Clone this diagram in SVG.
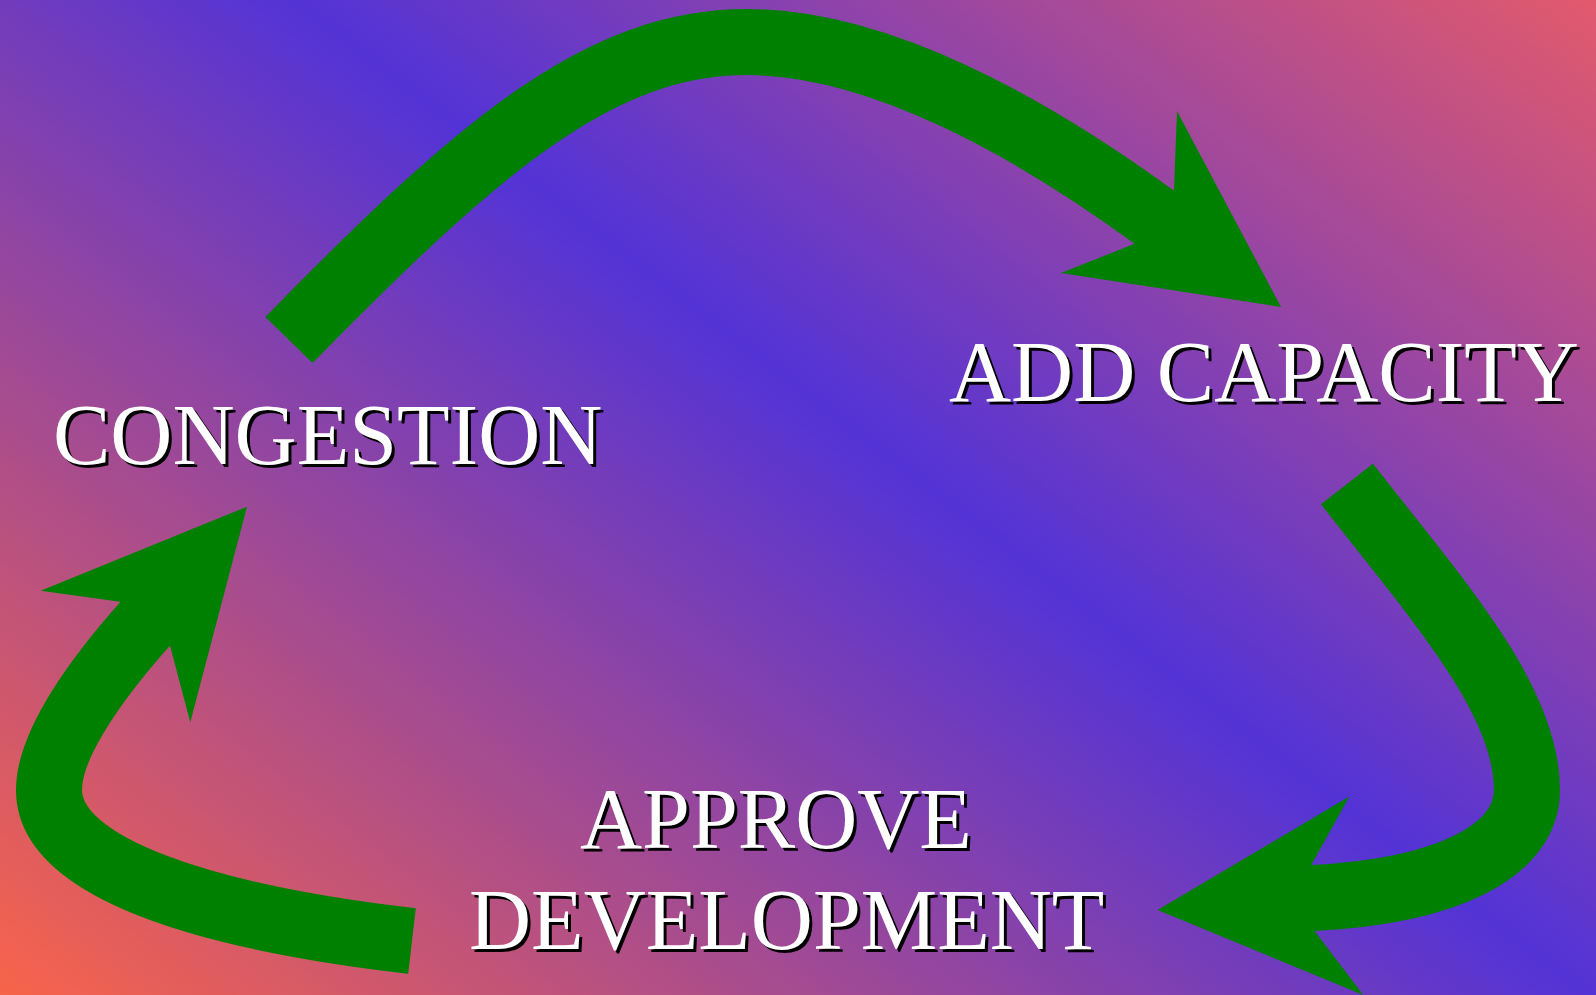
<svg xmlns="http://www.w3.org/2000/svg" width="1596" height="995" viewBox="0 0 1596 995">
  <defs>
    <linearGradient id="bg" gradientUnits="userSpaceOnUse" x1="-480.5" y1="625.7" x2="592" y2="-770.8">
      <stop offset="0" stop-color="#f8644a"/>
      <stop offset="0.55" stop-color="#5333d6"/>
      <stop offset="1" stop-color="#e25a6c"/>
    </linearGradient>
  </defs>
  <style>
    .shaft { fill: none; stroke: #008000; stroke-width: 66; stroke-linecap: butt; stroke-linejoin: round; }
    .head { fill: #008000; stroke: none; }
    .lbl { font-family: "Liberation Serif", "Times New Roman", serif; font-size: 86px; }
    .sh { fill: #000000; }
    .fg { fill: #ffffff; }
  </style>
  <rect x="0" y="0" width="1596" height="995" fill="url(#bg)"/>

  <g id="connectors">
    <g id="arrow-congestion-to-capacity">
      <path class="shaft" d="M289,340 C480,145 600,42 747,42 C880,42 1032,128 1154,217 l6,4.4"/>
      <polygon class="head" points="1174,189 1177,111 1281,307 1061,273 1134,244"/>
    </g>
    <g id="arrow-capacity-to-development">
      <path class="shaft" d="M1347,484 C1440,603 1527,700 1527,790 C1527,850 1450,891 1313,898 l-7,0.35"/>
      <polygon class="head" points="1311.7,864.3 1349.3,796.5 1157.7,909.9 1363.3,995 1315,931.4"/>
    </g>
    <g id="arrow-development-to-congestion">
      <path class="shaft" d="M412,941 C213,918 49,870 49,790 C49,740 105,669 145,624 l4.6,-5.2"/>
      <polygon class="head" points="170.3,646.7 190.3,722.3 247,506.7 40.7,590.7 120,601.7"/>
    </g>
  </g>

  <g id="node-congestion" class="lbl">
    <text class="sh" x="56" y="467">CONGESTION</text>
    <text class="fg" x="53" y="464">CONGESTION</text>
  </g>
  <g id="node-add-capacity" class="lbl">
    <text class="sh" x="952" y="404">ADD CAPACITY</text>
    <text class="fg" x="949" y="401">ADD CAPACITY</text>
  </g>
  <g id="node-approve-development" class="lbl">
    <text class="sh" x="583" y="851">APPROVE</text>
    <text class="fg" x="580" y="848">APPROVE</text>
    <text class="sh" x="472" y="952">DEVELOPMENT</text>
    <text class="fg" x="469" y="949">DEVELOPMENT</text>
  </g>
</svg>
